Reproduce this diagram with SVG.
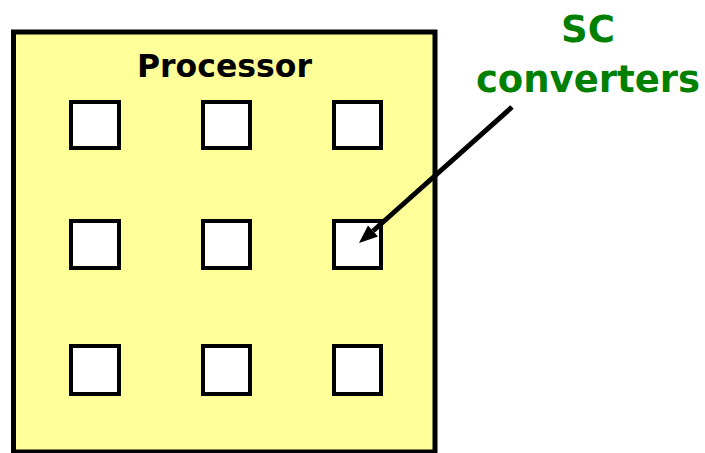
<svg xmlns="http://www.w3.org/2000/svg" width="705" height="453" viewBox="0 0 705 453">
  <style>
    .chip { fill: #ffff99; stroke: #000; stroke-width: 5; }
    .conv { fill: #fff; stroke: #000; stroke-width: 4; }
    .lbl { font-family: "DejaVu Sans", Verdana, sans-serif; font-weight: bold; text-anchor: middle; }
    .wire { stroke: #000; stroke-width: 5; fill: none; }
    .head { fill: #000; }
  </style>

  <g id="processor">
    <rect class="chip" x="13.5" y="32" width="421.5" height="420"/>
    <text class="lbl" x="224.5" y="77" font-size="31.5" fill="#000">Processor</text>
  </g>

  <g id="converter-grid">
    <g id="c11"><rect class="conv" x="71" y="102" width="48" height="46"/></g>
    <g id="c12"><rect class="conv" x="203" y="102" width="47" height="46"/></g>
    <g id="c13"><rect class="conv" x="334" y="102" width="47" height="46"/></g>
    <g id="c21"><rect class="conv" x="71" y="221" width="48" height="47"/></g>
    <g id="c22"><rect class="conv" x="203" y="221" width="47" height="47"/></g>
    <g id="c23"><rect class="conv" x="334" y="221" width="47" height="47"/></g>
    <g id="c31"><rect class="conv" x="71" y="346" width="48" height="48"/></g>
    <g id="c32"><rect class="conv" x="203" y="346" width="47" height="48"/></g>
    <g id="c33"><rect class="conv" x="334" y="346" width="47" height="48"/></g>
  </g>

  <g id="sc-label">
    <text class="lbl" x="588" y="42" font-size="37" fill="#008000">SC</text>
    <text class="lbl" x="588" y="92" font-size="37" fill="#008000">converters</text>
  </g>

  <g id="connectors">
    <line class="wire" x1="512" y1="107" x2="373" y2="231"/>
    <polygon class="head" points="359,243 368,225.5 378,236.5"/>
  </g>
</svg>
